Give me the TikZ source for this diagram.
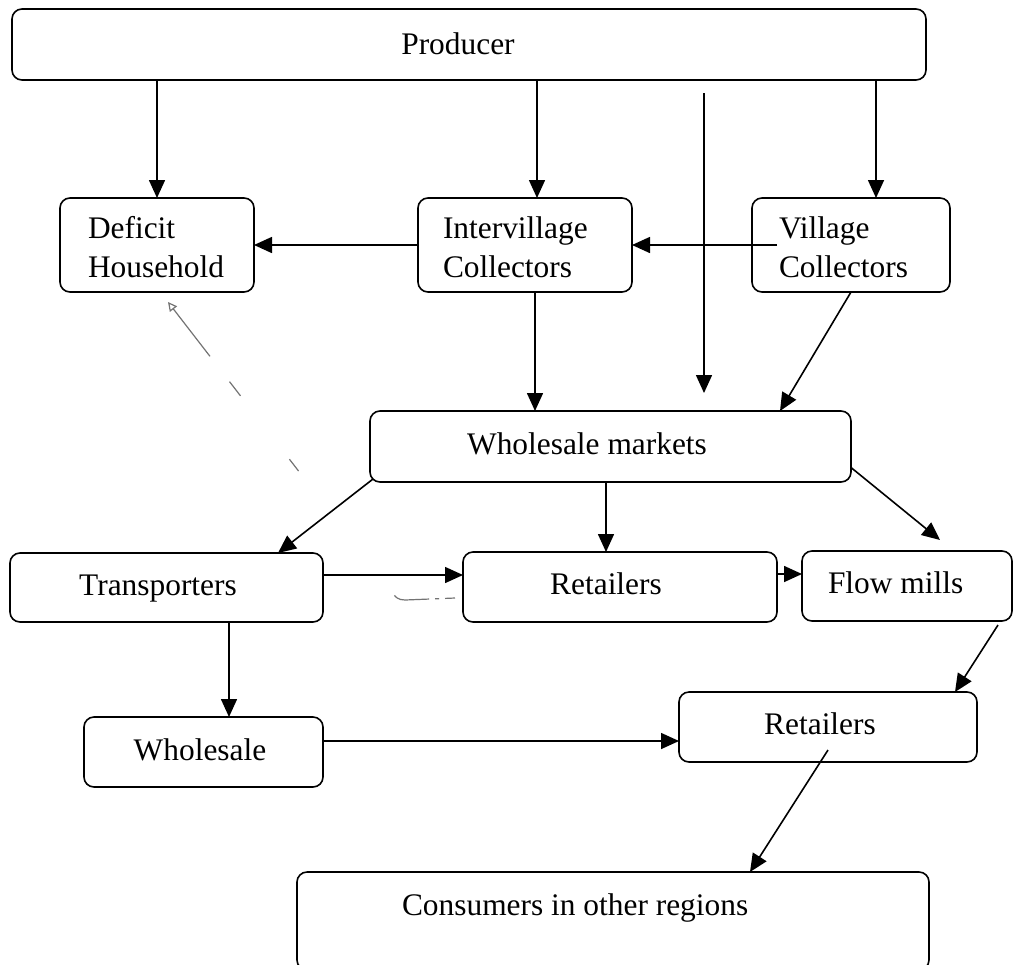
\documentclass[tikz,border=0pt]{standalone}
\usepackage{fontspec}
\setmainfont{Liberation Serif}
\usetikzlibrary{arrows.meta}
\begin{document}
\begin{tikzpicture}[x=1pt,y=-1pt,
  box/.style={draw=black, line width=1.6pt, rounded corners=10pt, inner sep=0pt, outer sep=0pt},
  txt/.style={inner sep=0pt, outer sep=0pt, font=\fontsize{31.4}{36}\selectfont},
  arr/.style={line width=1.6pt, -{Triangle[length=18pt,width=16pt]}},
  dsh/.style={line width=1.2pt, draw=black!55, dash pattern=on 10pt off 6pt on 4pt off 6pt on 36pt off 157pt on 15pt off 80pt on 18pt off 32pt on 100pt, -{Triangle[open,length=9pt,width=9pt]}}]
\useasboundingbox (0,0) rectangle (1019,964);

% boxes
\node[box, minimum width=914pt, minimum height=71pt] (prod) at (469,44.5) {};
\node[box, minimum width=194pt, minimum height=94pt] (dh) at (157,245) {};
\node[box, minimum width=214pt, minimum height=94pt] (iv) at (525,245) {};
\node[box, minimum width=198pt, minimum height=94pt] (vc) at (851,245) {};
\node[box, minimum width=481pt, minimum height=71pt] (wm) at (610.5,446.5) {};
\node[box, minimum width=313pt, minimum height=69pt] (tr) at (166.5,587.5) {};
\node[box, minimum width=314pt, minimum height=70pt] (ra) at (620,587) {};
\node[box, minimum width=210pt, minimum height=70pt] (fm) at (907,586) {};
\node[box, minimum width=239pt, minimum height=70pt] (ws) at (203.5,752) {};
\node[box, minimum width=298pt, minimum height=70pt] (rb) at (828,727) {};
\node[box, minimum width=632pt, minimum height=98pt] (cs) at (613,921) {};

% texts
\node[txt, anchor=base] (prodt) at (458,54) {Producer};
\node[txt, anchor=base west] (dht1) at (88,238) {Deficit};
\node[txt, anchor=base west] (dht2) at (88,277) {Household};
\node[txt, anchor=base west] (ivt1) at (443,238) {Intervillage};
\node[txt, anchor=base west] (ivt2) at (443,277) {Collectors};
\node[txt, anchor=base west] (vct1) at (779,238) {Village};
\node[txt, anchor=base west] (vct2) at (779,277) {Collectors};
\node[txt, anchor=base] (wmt) at (587,454) {Wholesale markets};
\node[txt, anchor=base] (trt) at (158,595) {Transporters};
\node[txt, anchor=base] (rat) at (606,594) {Retailers};
\node[txt, anchor=base west] (fmt) at (828,593) {Flow mills};
\node[txt, anchor=base] (wst) at (200,760) {Wholesale};
\node[txt, anchor=base] (rbt) at (820,734) {Retailers};
\node[txt, anchor=base west] (cst) at (402,915) {Consumers in other regions};

% free arrow
\coordinate (fa1) at (704,93);
\coordinate (fa2) at (704,393);

% connectors
\draw[arr] (prod.south -| dh.north) -- (dh.north);
\draw[arr] ([xshift=12pt]iv.north |- prod.south) -- ([xshift=12pt]iv.north);
\draw[arr] ([xshift=25pt]vc.north |- prod.south) -- ([xshift=25pt]vc.north);
\draw[arr] (fa1) -- (fa2);
\draw[arr] ([xshift=25pt]vc.west) -- (iv.east);
\draw[arr] (iv.west) -- (dh.east);
\draw[arr] ([xshift=10pt]iv.south) -- ([xshift=10pt]iv.south |- wm.north);
\draw[arr] (vc.south) -- ([xshift=169.5pt]wm.north);
\draw[arr] ([shift={(3pt,3pt)}]wm.south west) -- ([xshift=111.5pt]tr.north);
\draw[arr] ([xshift=-4.5pt]wm.south) -- ([xshift=-4.5pt]wm.south |- ra.north);
\draw[arr] ([yshift=-21pt]wm.east) -- ([shift={(33pt,11pt)}]fm.north);
\draw[arr] ([yshift=12.5pt]tr.east) -- ([yshift=12.5pt]tr.east -| ra.west);
\draw[arr] ([yshift=13pt]ra.east) -- ([yshift=13pt]ra.east -| fm.west);
\draw[arr] ([xshift=62.5pt]tr.south) -- ([xshift=62.5pt]tr.south |- ws.north);
\draw[arr] ([yshift=11pt]ws.east) -- ([yshift=11pt]ws.east -| rb.west);
\draw[arr] ([shift={(-14pt,-4pt)}]fm.south east) -- ([xshift=-22pt]rb.north east);
\draw[arr] ([yshift=-23pt]rb.center) -- ([xshift=137pt]cs.north);
\draw[dsh] ([shift={(-8pt,-11pt)}]ra.west) -- (405,600) .. controls (398,600) and (395,597) .. (392,592) -- ([shift={(11pt,-10pt)}]dh.south);
\end{tikzpicture}
\end{document}
